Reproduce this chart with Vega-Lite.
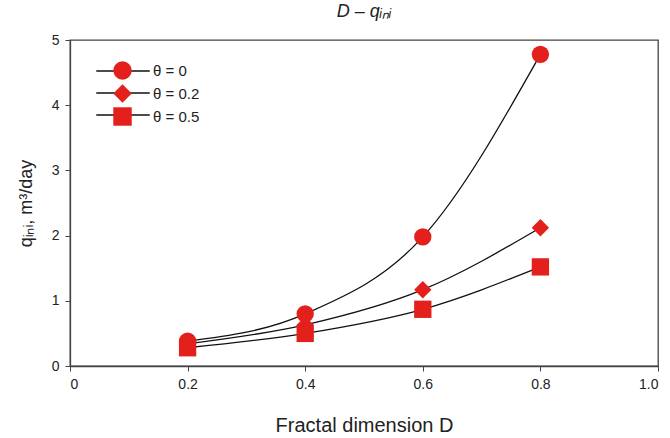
{
  "$schema": "https://vega.github.io/schema/vega-lite/v6.json",
  "width": 588,
  "height": 326,
  "autosize": "none",
  "padding": {"left": 70, "top": 40, "right": 12, "bottom": 72},
  "background": "white",
  "config": {
    "font": "Liberation Sans",
    "view": {"stroke": "#444", "strokeWidth": 1.3},
    "axis": {"grid": false, "domainColor": "#444", "tickColor": "#444", "labelColor": "#222", "titleColor": "#222", "labelFontSize": 14, "titleFontSize": 18, "titleFontWeight": "normal", "tickSize": 5, "domainWidth": 1.3}
  },
  "title": {"text": "D – qᵢₙᵢ", "fontStyle": "italic", "fontWeight": "normal", "fontSize": 18, "color": "#222", "offset": 12},
  "data": {"values": [
    {"D": 0.2, "q": 0.38, "theta": "θ = 0"},
    {"D": 0.4, "q": 0.8, "theta": "θ = 0"},
    {"D": 0.6, "q": 1.98, "theta": "θ = 0"},
    {"D": 0.8, "q": 4.78, "theta": "θ = 0"},
    {"D": 0.2, "q": 0.34, "theta": "θ = 0.2"},
    {"D": 0.4, "q": 0.63, "theta": "θ = 0.2"},
    {"D": 0.6, "q": 1.17, "theta": "θ = 0.2"},
    {"D": 0.8, "q": 2.12, "theta": "θ = 0.2"},
    {"D": 0.2, "q": 0.28, "theta": "θ = 0.5"},
    {"D": 0.4, "q": 0.5, "theta": "θ = 0.5"},
    {"D": 0.6, "q": 0.87, "theta": "θ = 0.5"},
    {"D": 0.8, "q": 1.52, "theta": "θ = 0.5"}
  ]},
  "encoding": {
    "x": {"field": "D", "type": "quantitative", "scale": {"domain": [0, 1], "nice": false},
      "axis": {"values": [0, 0.2, 0.4, 0.6, 0.8, 1.0], "labelExpr": "datum.value == 0 ? '0' : format(datum.value, '.1f')", "title": "Fractal dimension D", "titleFontSize": 20, "titlePadding": 24, "labelPadding": 6}},
    "y": {"field": "q", "type": "quantitative", "scale": {"domain": [0, 5], "nice": false},
      "axis": {"values": [0, 1, 2, 3, 4, 5], "title": "qᵢₙᵢ, m³/day", "titlePadding": 16, "labelPadding": 6}}
  },
  "layer": [
    {
      "mark": {"type": "line", "interpolate": "monotone", "strokeWidth": 1.3},
      "encoding": {
        "stroke": {"field": "theta", "type": "nominal",
          "scale": {"domain": ["θ = 0", "θ = 0.2", "θ = 0.5"], "range": ["#111", "#111", "#111"]},
          "legend": {"title": null, "orient": "none", "legendX": 43, "legendY": 21, "symbolType": "M-2.9,0H2.9", "symbolSize": 340, "symbolStrokeWidth": 1.5, "symbolStrokeColor": "#111", "labelFontSize": 15, "labelExpr": "''", "rowPadding": 4, "zindex": 1}}
      }
    },
    {
      "mark": {"type": "point", "filled": true, "opacity": 1, "color": "#e3201b", "size": 300},
      "encoding": {
        "shape": {"field": "theta", "type": "nominal",
          "scale": {"range": ["circle", "diamond", "square"]},
          "legend": {"title": null, "orient": "none", "legendX": 43, "legendY": 21, "symbolSize": 340, "symbolFillColor": "#e3201b", "symbolStrokeWidth": 0, "symbolOpacity": 1, "labelFontSize": 15, "labelColor": "#222", "labelOffset": 21, "rowPadding": 4, "zindex": 2}}
      }
    }
  ]
}
